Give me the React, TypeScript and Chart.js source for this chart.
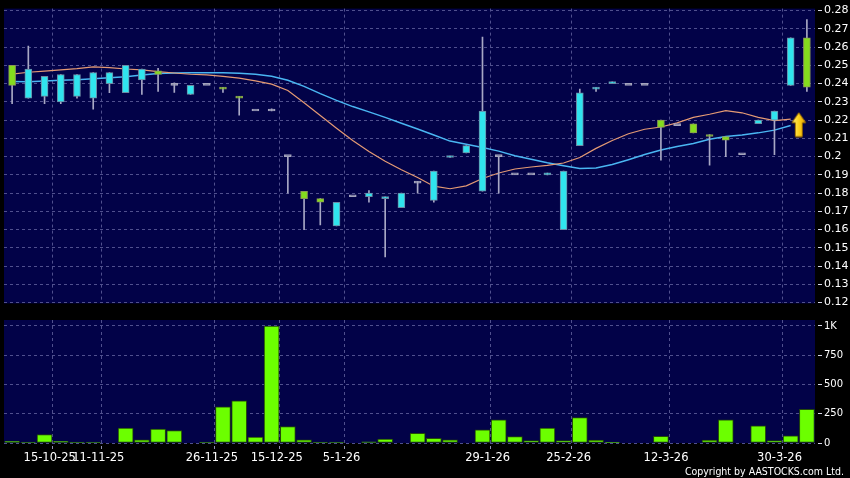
import React, { useEffect, useRef } from "react";
import { Chart, registerables } from "chart.js";

Chart.register(...registerables);

// ---- data ----
const openP = [0.239, 0.248, 0.244, 0.245, 0.245, 0.246, 0.246, 0.250, 0.248, 0.245,
  0.239, 0.239, 0.239, 0.237, 0.232, 0.225, 0.225, 0.200, 0.177, 0.175,
  0.175, 0.178, 0.180, 0.178, 0.180, 0.1855, 0.192, 0.2003, 0.206, 0.225,
  0.200, 0.190, 0.190, 0.191, 0.192, 0.235, 0.238, 0.241, 0.239, 0.239,
  0.216, 0.217, 0.213, 0.211, 0.209, 0.201, 0.220, 0.225, 0.265, 0.238];
const closeP = [0.250, 0.232, 0.233, 0.230, 0.233, 0.232, 0.240, 0.235, 0.242, 0.247,
  0.239, 0.234, 0.239, 0.238, 0.233, 0.225, 0.225, 0.200, 0.181, 0.177,
  0.162, 0.178, 0.178, 0.177, 0.172, 0.1855, 0.176, 0.1995, 0.202, 0.181,
  0.200, 0.190, 0.190, 0.190, 0.160, 0.206, 0.237, 0.240, 0.239, 0.239,
  0.220, 0.217, 0.218, 0.212, 0.211, 0.201, 0.218, 0.220, 0.239, 0.265];
const highP = [0.250, 0.2605, 0.244, 0.245, 0.245, 0.246, 0.246, 0.250, 0.248, 0.2484,
  0.2404, 0.239, 0.239, 0.238, 0.233, 0.225, 0.2262, 0.200, 0.181, 0.177,
  0.175, 0.178, 0.1814, 0.178, 0.180, 0.1864, 0.192, 0.2003, 0.206, 0.2655,
  0.200, 0.190, 0.190, 0.191, 0.192, 0.237, 0.238, 0.241, 0.239, 0.239,
  0.220, 0.217, 0.218, 0.212, 0.211, 0.201, 0.220, 0.225, 0.265, 0.275];
const lowP = [0.229, 0.232, 0.229, 0.229, 0.232, 0.226, 0.235, 0.235, 0.234, 0.2357,
  0.2352, 0.234, 0.239, 0.2352, 0.2227, 0.225, 0.225, 0.180, 0.160, 0.1625,
  0.162, 0.178, 0.175, 0.145, 0.172, 0.180, 0.175, 0.1995, 0.202, 0.181,
  0.180, 0.190, 0.190, 0.190, 0.160, 0.206, 0.2357, 0.240, 0.239, 0.239,
  0.198, 0.217, 0.213, 0.1953, 0.200, 0.201, 0.218, 0.201, 0.239, 0.2357];

const volume = [14, 8, 73, 14, 8, 8, 0, 127, 28, 118,
  107, 0, 8, 310, 360, 51, 1000, 141, 28, 8,
  8, 0, 10, 34, 0, 82, 39, 28, 0, 113,
  197, 54, 20, 127, 20, 217, 25, 3, 0, 0,
  56, 0, 0, 25, 197, 0, 146, 20, 62, 287];

const maFast = [0.2452, 0.2462, 0.2468, 0.2475, 0.2482, 0.2492, 0.2487, 0.2480, 0.2475, 0.2466,
  0.2458, 0.2451, 0.2448, 0.2440, 0.2430, 0.2415, 0.2397, 0.2362, 0.2295, 0.2225,
  0.2155, 0.2088, 0.2028, 0.1975, 0.1928, 0.1885, 0.1838, 0.1824, 0.1840, 0.1880,
  0.1910, 0.1932, 0.1943, 0.1952, 0.1965, 0.1995, 0.2045, 0.2088, 0.2125, 0.2150,
  0.2162, 0.2185, 0.2215, 0.2232, 0.2252, 0.2240, 0.2215, 0.2197, 0.2205];
const maSlow = [0.2412, 0.2410, 0.2414, 0.2418, 0.2421, 0.2426, 0.2432, 0.2437, 0.2447, 0.2455,
  0.2458, 0.2460, 0.2460, 0.2459, 0.2456, 0.2451, 0.2440, 0.2418, 0.2385, 0.2345,
  0.2308, 0.2274, 0.2245, 0.2215, 0.2183, 0.2151, 0.2118, 0.2085, 0.2068, 0.2050,
  0.2030, 0.2005, 0.1985, 0.1966, 0.1950, 0.1935, 0.1937, 0.1957, 0.1983, 0.2011,
  0.2036, 0.2055, 0.2072, 0.2095, 0.2110, 0.2118, 0.2130, 0.2145, 0.2170];

const dateLabels = ["15-10-25", "11-11-25", "26-11-25", "15-12-25", "5-1-26", "29-1-26", "25-2-26", "12-3-26", "30-3-26"];
const dateTickIndex = [3, 6, 13, 17, 21, 30, 35, 41, 48];
const priceTicks = [0.12, 0.13, 0.14, 0.15, 0.16, 0.17, 0.18, 0.19, 0.2, 0.21, 0.22, 0.23, 0.24, 0.25, 0.26, 0.27, 0.28];
const volumeTicks = [0, 250, 500, 750, 1000];
const volumeTickLabels = ["0", "250", "500", "750", "1K"];
const arrowX = [48.5];
const arrowY = [0.2175];

// ---- styling ----
const NAVY = "#020248";
const GRID = "#50508e";
const GREEN = "#84dc1e";
const CYAN = "#30e4ee";
const FONT = "'DejaVu Sans', sans-serif";

const plotBg = {
  id: "plotBg",
  beforeDraw(chart: any) {
    const { ctx, chartArea: a } = chart;
    ctx.save();
    ctx.fillStyle = NAVY;
    ctx.fillRect(a.left, a.top, a.right - a.left, a.bottom - a.top);
    ctx.restore();
  },
};

function makeArrow(): HTMLCanvasElement {
  const c = document.createElement("canvas");
  c.width = 16;
  c.height = 26;
  const g = c.getContext("2d")!;
  const grad = g.createLinearGradient(0, 0, 16, 0);
  grad.addColorStop(0, "#fff48a");
  grad.addColorStop(0.5, "#ffd21a");
  grad.addColorStop(1, "#e09a00");
  g.beginPath();
  g.moveTo(8, 1);
  g.lineTo(15, 11);
  g.lineTo(11.5, 11);
  g.lineTo(11.5, 25);
  g.lineTo(4.5, 25);
  g.lineTo(4.5, 11);
  g.lineTo(1, 11);
  g.closePath();
  g.fillStyle = grad;
  g.fill();
  g.strokeStyle = "#9a6a00";
  g.lineWidth = 1;
  g.stroke();
  return c;
}

export default function App() {
  const priceRef = useRef<HTMLCanvasElement>(null);
  const volRef = useRef<HTMLCanvasElement>(null);

  useEffect(() => {
    Chart.defaults.font.family = FONT;
    const idx = openP.map((_, i) => i);
    const bodyColor = idx.map((i) =>
      closeP[i] > openP[i] ? GREEN : closeP[i] < openP[i] ? CYAN : "#a4a4bc"
    );
    const bodyBorder = idx.map((i) =>
      closeP[i] > openP[i] ? "#8a9a52" : closeP[i] < openP[i] ? "#6a8aa4" : "#a4a4bc"
    );

    const xBase = {
      type: "linear" as const,
      min: -0.5,
      max: 49.5,
      offset: false,
      afterBuildTicks: (s: any) => {
        s.ticks = dateTickIndex.map((i) => ({ value: i - 0.5 }));
      },
    };

    const price = new Chart(priceRef.current!, {
      type: "bar",
      data: {
        datasets: [
          {
            type: "line",
            data: maFast.map((v, i) => ({ x: i, y: v })),
            borderColor: "#e49a74",
            borderWidth: 1.2,
            pointRadius: 0,
            order: 4,
          } as any,
          {
            type: "line",
            data: maSlow.map((v, i) => ({ x: i, y: v })),
            borderColor: "#4ab6f2",
            borderWidth: 1.5,
            pointRadius: 0,
            order: 5,
          } as any,
          {
            type: "bar",
            data: idx.map((i) => ({ x: i, y: highP[i] > lowP[i] ? [lowP[i], highP[i]] : null })),
            backgroundColor: "#a8a8c4",
            barThickness: 1,
            grouped: false,
            order: 3,
          } as any,
          {
            type: "bar",
            data: idx.map((i) => ({ x: i, y: [openP[i], closeP[i]] })),
            backgroundColor: bodyColor,
            borderColor: bodyBorder,
            borderWidth: 1,
            borderSkipped: false,
            barThickness: 7,
            minBarLength: 2,
            grouped: false,
            order: 2,
          } as any,
          {
            type: "line",
            data: arrowX.map((x, i) => ({ x, y: arrowY[i] })),
            showLine: false,
            pointStyle: makeArrow(),
            pointRadius: 10,
            order: 1,
          } as any,
        ],
      },
      options: {
        animation: false,
        responsive: false,
        devicePixelRatio: 1,
        layout: { autoPadding: false, padding: { top: 7, left: 4, right: 0, bottom: 7 } },
        plugins: { legend: { display: false }, tooltip: { enabled: false } },
        scales: {
          x: {
            ...xBase,
            afterFit: (s: any) => {
              s.height = 0;
            },
            ticks: { display: false },
            grid: { color: GRID, drawTicks: false, offset: false },
            border: { display: false, dash: [3, 3] },
          },
          y: {
            position: "right",
            min: 0.11957,
            max: 0.28108,
            afterBuildTicks: (s: any) => {
              s.ticks = priceTicks.map((v) => ({ value: v }));
            },
            afterFit: (s: any) => {
              s.width = 35;
            },
            ticks: {
              color: "#ffffff",
              font: { size: 11 },
              padding: 2,
              callback: (v: any) => String(Number(Number(v).toFixed(2))),
            },
            grid: { color: GRID, tickColor: "#d8d8e8", tickLength: 7, tickBorderDash: [0, 3, 4, 100] },
            border: { display: false, dash: [3, 3] },
          },
        } as any,
      },
      plugins: [plotBg],
    });

    const vol = new Chart(volRef.current!, {
      type: "bar",
      data: {
        datasets: [
          {
            data: volume.map((v, i) => ({ x: i, y: v })),
            backgroundColor: "#6cff00",
            borderColor: "#244a08",
            borderWidth: 1,
            borderSkipped: false,
            barThickness: 15,
            grouped: false,
          } as any,
        ],
      },
      options: {
        animation: false,
        responsive: false,
        devicePixelRatio: 1,
        layout: { autoPadding: false, padding: { top: 7, left: 4, right: 0, bottom: 0 } },
        plugins: { legend: { display: false }, tooltip: { enabled: false } },
        scales: {
          x: {
            ...xBase,
            afterFit: (s: any) => {
              s.height = 35;
            },
            ticks: {
              color: "#ffffff",
              font: { size: 11.5 },
              maxRotation: 0,
              autoSkip: false,
              padding: 2,
              labelOffset: -3,
              callback: (_v: any, i: number) => dateLabels[i],
            },
            grid: { color: GRID, offset: false, tickColor: "#9090b0", tickLength: 6, tickBorderDash: [0, 3, 3, 100] },
            border: { display: false, dash: [3, 3] },
          },
          y: {
            position: "right",
            min: 0,
            max: 1051,
            afterBuildTicks: (s: any) => {
              s.ticks = volumeTicks.map((v) => ({ value: v }));
            },
            afterFit: (s: any) => {
              s.width = 35;
            },
            ticks: {
              color: "#ffffff",
              font: { size: 10 },
              padding: 2,
              callback: (_v: any, i: number) => volumeTickLabels[i],
            },
            grid: { color: GRID, tickColor: "#d8d8e8", tickLength: 7, tickBorderDash: [0, 3, 4, 100] },
            border: { display: false, dash: [3, 3] },
          },
        } as any,
      },
      plugins: [plotBg],
    });

    return () => {
      price.destroy();
      vol.destroy();
    };
  }, []);

  return (
    <div
      style={{
        position: "fixed",
        left: 0,
        top: 0,
        width: 850,
        height: 478,
        background: "#000",
        overflow: "hidden",
      }}
    >
      <canvas ref={priceRef} width={850} height={312} style={{ position: "absolute", left: 0, top: 0 }} />
      <canvas ref={volRef} width={850} height={166} style={{ position: "absolute", left: 0, top: 312 }} />
      <div
        style={{
          position: "absolute",
          right: 6,
          top: 465,
          color: "#ffffff",
          font: "10.5px 'DejaVu Sans Condensed', 'DejaVu Sans', sans-serif",
          lineHeight: "12px",
          whiteSpace: "nowrap",
        }}
      >
        Copyright by AASTOCKS.com Ltd.
      </div>
    </div>
  );
}
